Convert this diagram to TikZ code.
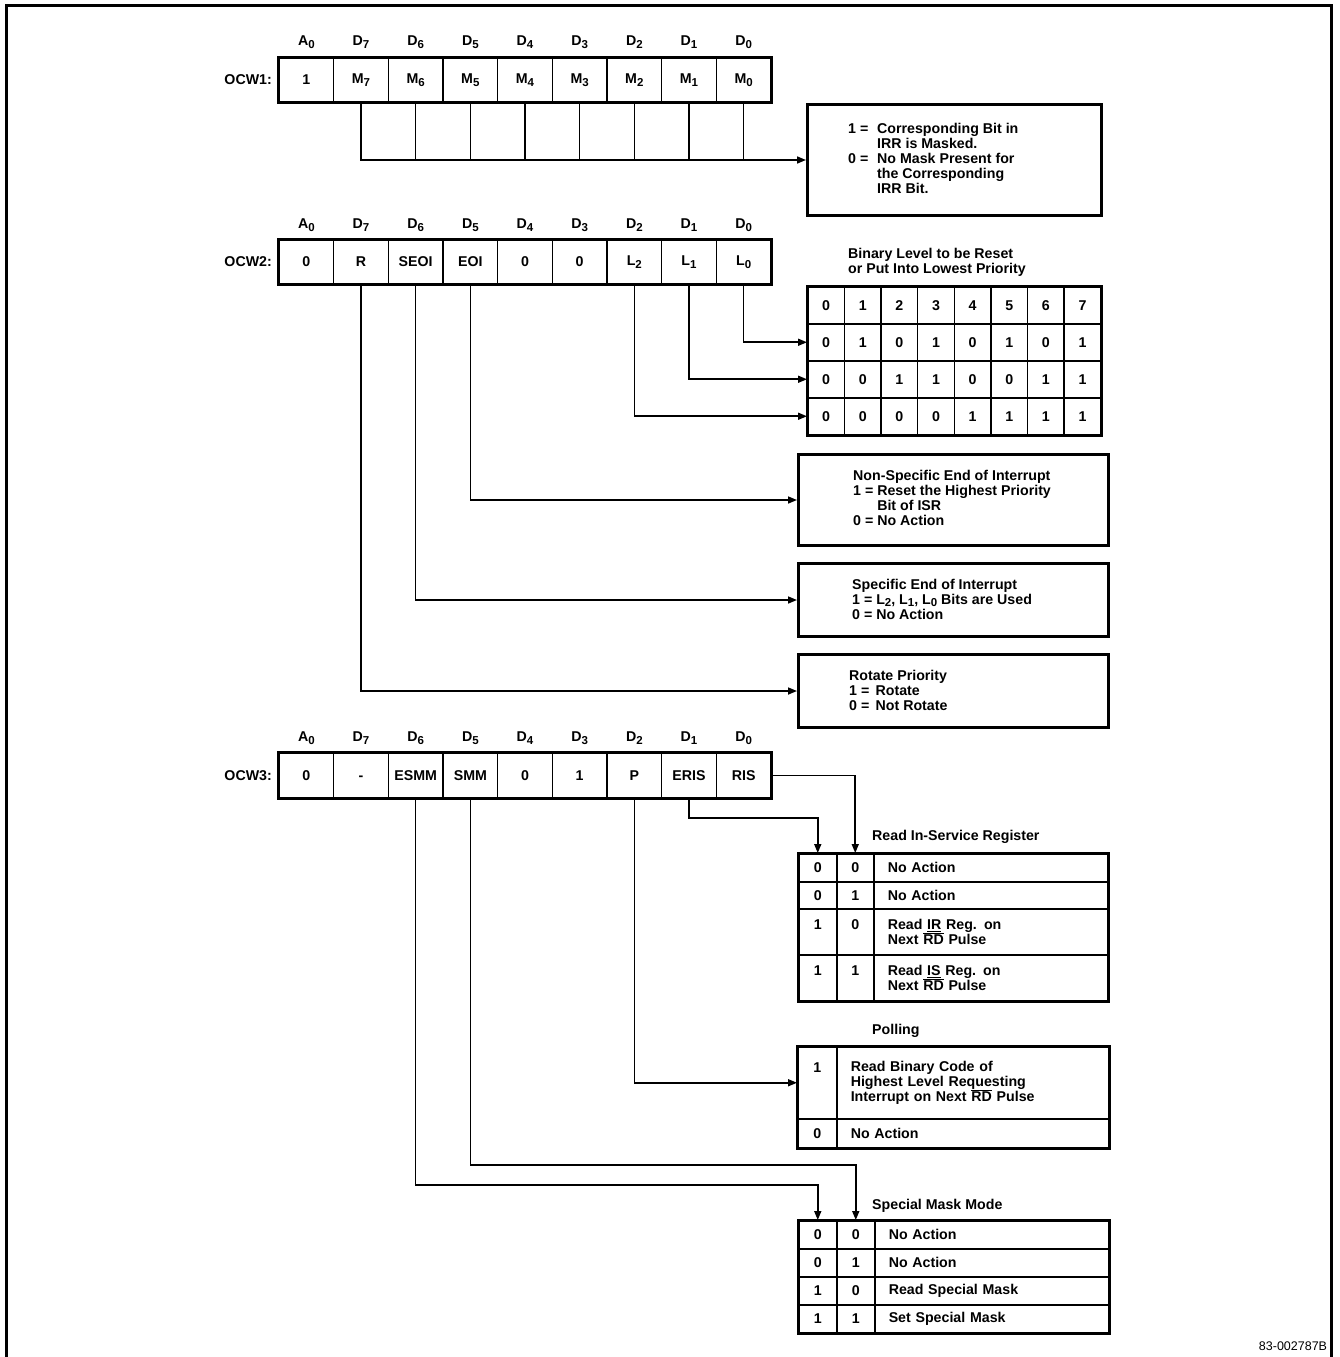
\documentclass[tikz,border=0pt]{standalone}
\usepackage{fontspec}
\setmainfont{Liberation Sans}
\usetikzlibrary{arrows.meta}
\newcommand{\lowsub}[1]{\raisebox{-2.5pt}{\fontsize{11.5}{11.5}\selectfont #1}}
\newcommand{\ovl}[1]{$\overline{\hbox{#1}}$}
\begin{document}
\begin{tikzpicture}[x=1pt,y=-1pt,
  txt/.style={font=\fontsize{14.2}{15}\selectfont\bfseries, inner sep=0pt},
  cell/.style={txt, draw, line width=1.5pt, minimum width=54.67pt, minimum height=44pt},
  outer/.style={draw, line width=3pt},
  tcell/.style={txt, draw, line width=1.5pt, anchor=north west, align=center},
  tline/.style={txt, draw, line width=1.5pt, anchor=north west, align=left, inner xsep=14pt},
  bigbox/.style={draw, line width=3pt, anchor=north west, inner sep=0pt},
  conn/.style={line width=1.6pt},
  arr/.style={conn, -{Triangle[length=9pt,width=7pt]}}]
\useasboundingbox (0,0) rectangle (1340,1357);
% frame
\draw[line width=3pt] (6,1357) -- (6,5) -- (1331,5) -- (1331,1357);

% ---------------- OCW1 ----------------
\node[txt, anchor=east] (ocw1) at (272,80) {OCW1:};
\foreach \t [count=\i from 0] in {A\lowsub{0},D\lowsub{7},D\lowsub{6},D\lowsub{5},D\lowsub{4},D\lowsub{3},D\lowsub{2},D\lowsub{1},D\lowsub{0}}
  \node[txt] (o1l\i) at ({306.33+54.67*\i},42) {\t};
\foreach \t [count=\i from 0] in {1,M\lowsub{7},M\lowsub{6},M\lowsub{5},M\lowsub{4},M\lowsub{3},M\lowsub{2},M\lowsub{1},M\lowsub{0}}
  \node[cell] (o1c\i) at ({306.33+54.67*\i},80) {\t};
\draw[outer] (o1c0.north west) rectangle (o1c8.south east);

\node[bigbox, minimum width=294pt, minimum height=111pt] (box1) at (806,103) {};
\node[txt, anchor=west, align=left] (box1t) at (848,158)
  {\makebox[29pt][l]{1 =}Corresponding Bit in\\
   \hspace*{29pt}IRR is Masked.\\
   \makebox[29pt][l]{0 =}No Mask Present for\\
   \hspace*{29pt}the Corresponding\\
   \hspace*{29pt}IRR Bit.};
\draw[arr] (o1c1.south) |- (box1.west);
\foreach \i in {2,...,8} \draw[conn] (o1c\i.south) -- (o1c\i.south |- box1.west);

% ---------------- OCW2 ----------------
\node[txt, anchor=east] (ocw2) at (272,262) {OCW2:};
\foreach \t [count=\i from 0] in {A\lowsub{0},D\lowsub{7},D\lowsub{6},D\lowsub{5},D\lowsub{4},D\lowsub{3},D\lowsub{2},D\lowsub{1},D\lowsub{0}}
  \node[txt] (o2l\i) at ({306.33+54.67*\i},225) {\t};
\foreach \t [count=\i from 0] in {0,R,SEOI,EOI,0,0,L\lowsub{2},L\lowsub{1},L\lowsub{0}}
  \node[cell] (o2c\i) at ({306.33+54.67*\i},262) {\t};
\draw[outer] (o2c0.north west) rectangle (o2c8.south east);

\node[txt, anchor=west, align=left] (bintitle) at (848,262)
  {Binary Level to be Reset\\or Put Into Lowest Priority};
\foreach \v [count=\c from 0] in {0,1,2,3,4,5,6,7}
  \node[tcell, minimum width=36.625pt, minimum height=37pt] (b0-\c) at ({807+36.625*\c},286) {\v};
\foreach \v [count=\c from 0] in {0,1,0,1,0,1,0,1}
  \node[tcell, minimum width=36.625pt, minimum height=37pt] (b1-\c) at ({807+36.625*\c},323) {\v};
\foreach \v [count=\c from 0] in {0,0,1,1,0,0,1,1}
  \node[tcell, minimum width=36.625pt, minimum height=37pt] (b2-\c) at ({807+36.625*\c},360) {\v};
\foreach \v [count=\c from 0] in {0,0,0,0,1,1,1,1}
  \node[tcell, minimum width=36.625pt, minimum height=37pt] (b3-\c) at ({807+36.625*\c},397) {\v};
\draw[outer] (b0-0.north west) rectangle (b3-7.south east);
\draw[arr] (o2c8.south) |- (b1-0.west);
\draw[arr] (o2c7.south) |- (b2-0.west);
\draw[arr] (o2c6.south) |- (b3-0.west);

\node[bigbox, minimum width=310pt, minimum height=91pt] (box2) at (797,453) {};
\node[txt, anchor=west, align=left] (box2t) at (853,498)
  {Non-Specific End of Interrupt\\
   1 = Reset the Highest Priority\\
   \phantom{1 = }Bit of ISR\\
   0 = No Action};
\draw[arr] (o2c3.south) |- (box2.west);

\node[bigbox, minimum width=310pt, minimum height=73pt] (box3) at (797,562) {};
\node[txt, anchor=west, align=left] (box3t) at (852,599)
  {Specific End of Interrupt\\
   1 = L\lowsub{2}, L\lowsub{1}, L\lowsub{0} Bits are Used\\
   0 = No Action};
\draw[arr] (o2c2.south) |- (box3.west);

\node[bigbox, minimum width=310pt, minimum height=73pt] (box4) at (797,653) {};
\node[txt, anchor=west, align=left] (box4t) at (849,690)
  {Rotate Priority\\
   1 = \,Rotate\\
   0 = \,Not Rotate};
\draw[arr] (o2c1.south) |- (box4.west);

% ---------------- OCW3 ----------------
\node[txt, anchor=east] (ocw3) at (272,776) {OCW3:};
\foreach \t [count=\i from 0] in {A\lowsub{0},D\lowsub{7},D\lowsub{6},D\lowsub{5},D\lowsub{4},D\lowsub{3},D\lowsub{2},D\lowsub{1},D\lowsub{0}}
  \node[txt] (o3l\i) at ({306.33+54.67*\i},738) {\t};
\foreach \t [count=\i from 0] in {0,\vphantom{0}-,ESMM,SMM,0,1,P,ERIS,RIS}
  \node[cell] (o3c\i) at ({306.33+54.67*\i},775.5) {\t};
\draw[outer] (o3c0.north west) rectangle (o3c8.south east);

% Read In-Service Register
\node[txt, anchor=west] (ristitle) at (872,837) {Read In-Service Register};
\node[tcell, minimum width=38pt, minimum height=28pt] (ra0) at (798,853) {0};
\node[tcell, minimum width=37pt, minimum height=28pt] (rb0) at (836,853) {0};
\node[tline, minimum height=28pt, text width=206pt] (rc0) at (873,853) {No Action};
\node[tcell, minimum width=38pt, minimum height=27pt] (ra1) at (798,881) {0};
\node[tcell, minimum width=37pt, minimum height=27pt] (rb1) at (836,881) {1};
\node[tline, minimum height=27pt, text width=206pt] (rc1) at (873,881) {No Action};
\node[tcell, minimum width=38pt, minimum height=46pt] (ra2) at (798,908) {1\\\phantom{1}};
\node[tcell, minimum width=37pt, minimum height=46pt] (rb2) at (836,908) {0\\\phantom{0}};
\node[tline, minimum height=46pt, text width=206pt] (rc2) at (873,908) {Read \underline{IR} Reg. on\\Next \ovl{RD} Pulse};
\node[tcell, minimum width=38pt, minimum height=46pt] (ra3) at (798,954) {1\\\phantom{1}};
\node[tcell, minimum width=37pt, minimum height=46pt] (rb3) at (836,954) {1\\\phantom{1}};
\node[tline, minimum height=46pt, text width=206pt] (rc3) at (873,954) {Read \underline{IS} Reg. on\\Next \ovl{RD} Pulse};
\draw[outer] (ra0.north west) rectangle (rc3.south east);
\draw[arr] (o3c8.east) -| (rb0.north);
\draw[arr] (o3c7.south) -- ++(0,20) -| (ra0.north);

% Polling
\node[txt, anchor=west] (polltitle) at (872,1031) {Polling};
\node[tcell, minimum width=39pt, minimum height=72pt] (pa0) at (797,1046) {1\\\phantom{1}\\\phantom{1}};
\node[tline, minimum height=72pt, text width=244pt] (pb0) at (836,1046)
  {Read Binary Code of\\Highest Level Requesting\\Interrupt on Next \ovl{RD} Pulse};
\node[tcell, minimum width=39pt, minimum height=29pt] (pa1) at (797,1118) {0};
\node[tline, minimum height=29pt, text width=244pt] (pb1) at (836,1118) {No Action};
\draw[outer] (pa0.north west) rectangle (pb1.south east);
\draw[arr] (o3c6.south) |- (pa0.west);

% Special Mask Mode
\node[txt, anchor=west] (smmtitle) at (872,1206) {Special Mask Mode};
\node[tcell, minimum width=38pt, minimum height=28pt] (ma0) at (798,1220) {0};
\node[tcell, minimum width=38pt, minimum height=28pt] (mb0) at (836,1220) {0};
\node[tline, minimum height=28pt, text width=206pt] (mc0) at (874,1220) {No Action};
\node[tcell, minimum width=38pt, minimum height=28pt] (ma1) at (798,1248) {0};
\node[tcell, minimum width=38pt, minimum height=28pt] (mb1) at (836,1248) {1};
\node[tline, minimum height=28pt, text width=206pt] (mc1) at (874,1248) {No Action};
\node[tcell, minimum width=38pt, minimum height=28pt] (ma2) at (798,1276) {1};
\node[tcell, minimum width=38pt, minimum height=28pt] (mb2) at (836,1276) {0};
\node[tline, minimum height=28pt, text width=206pt] (mc2) at (874,1276) {Read Special Mask};
\node[tcell, minimum width=38pt, minimum height=28pt] (ma3) at (798,1304) {1};
\node[tcell, minimum width=38pt, minimum height=28pt] (mb3) at (836,1304) {1};
\node[tline, minimum height=28pt, text width=206pt] (mc3) at (874,1304) {Set Special Mask};
\draw[outer] (ma0.north west) rectangle (mc3.south east);
\draw[arr] (o3c3.south) -- ++(0,367) -| (mb0.north);
\draw[arr] (o3c2.south) -- ++(0,387) -| (ma0.north);

% footer
\node[font=\fontsize{12.5}{12.5}\selectfont, inner sep=0pt] (code) at (1293,1346) {83-002787B};
\end{tikzpicture}
\end{document}
